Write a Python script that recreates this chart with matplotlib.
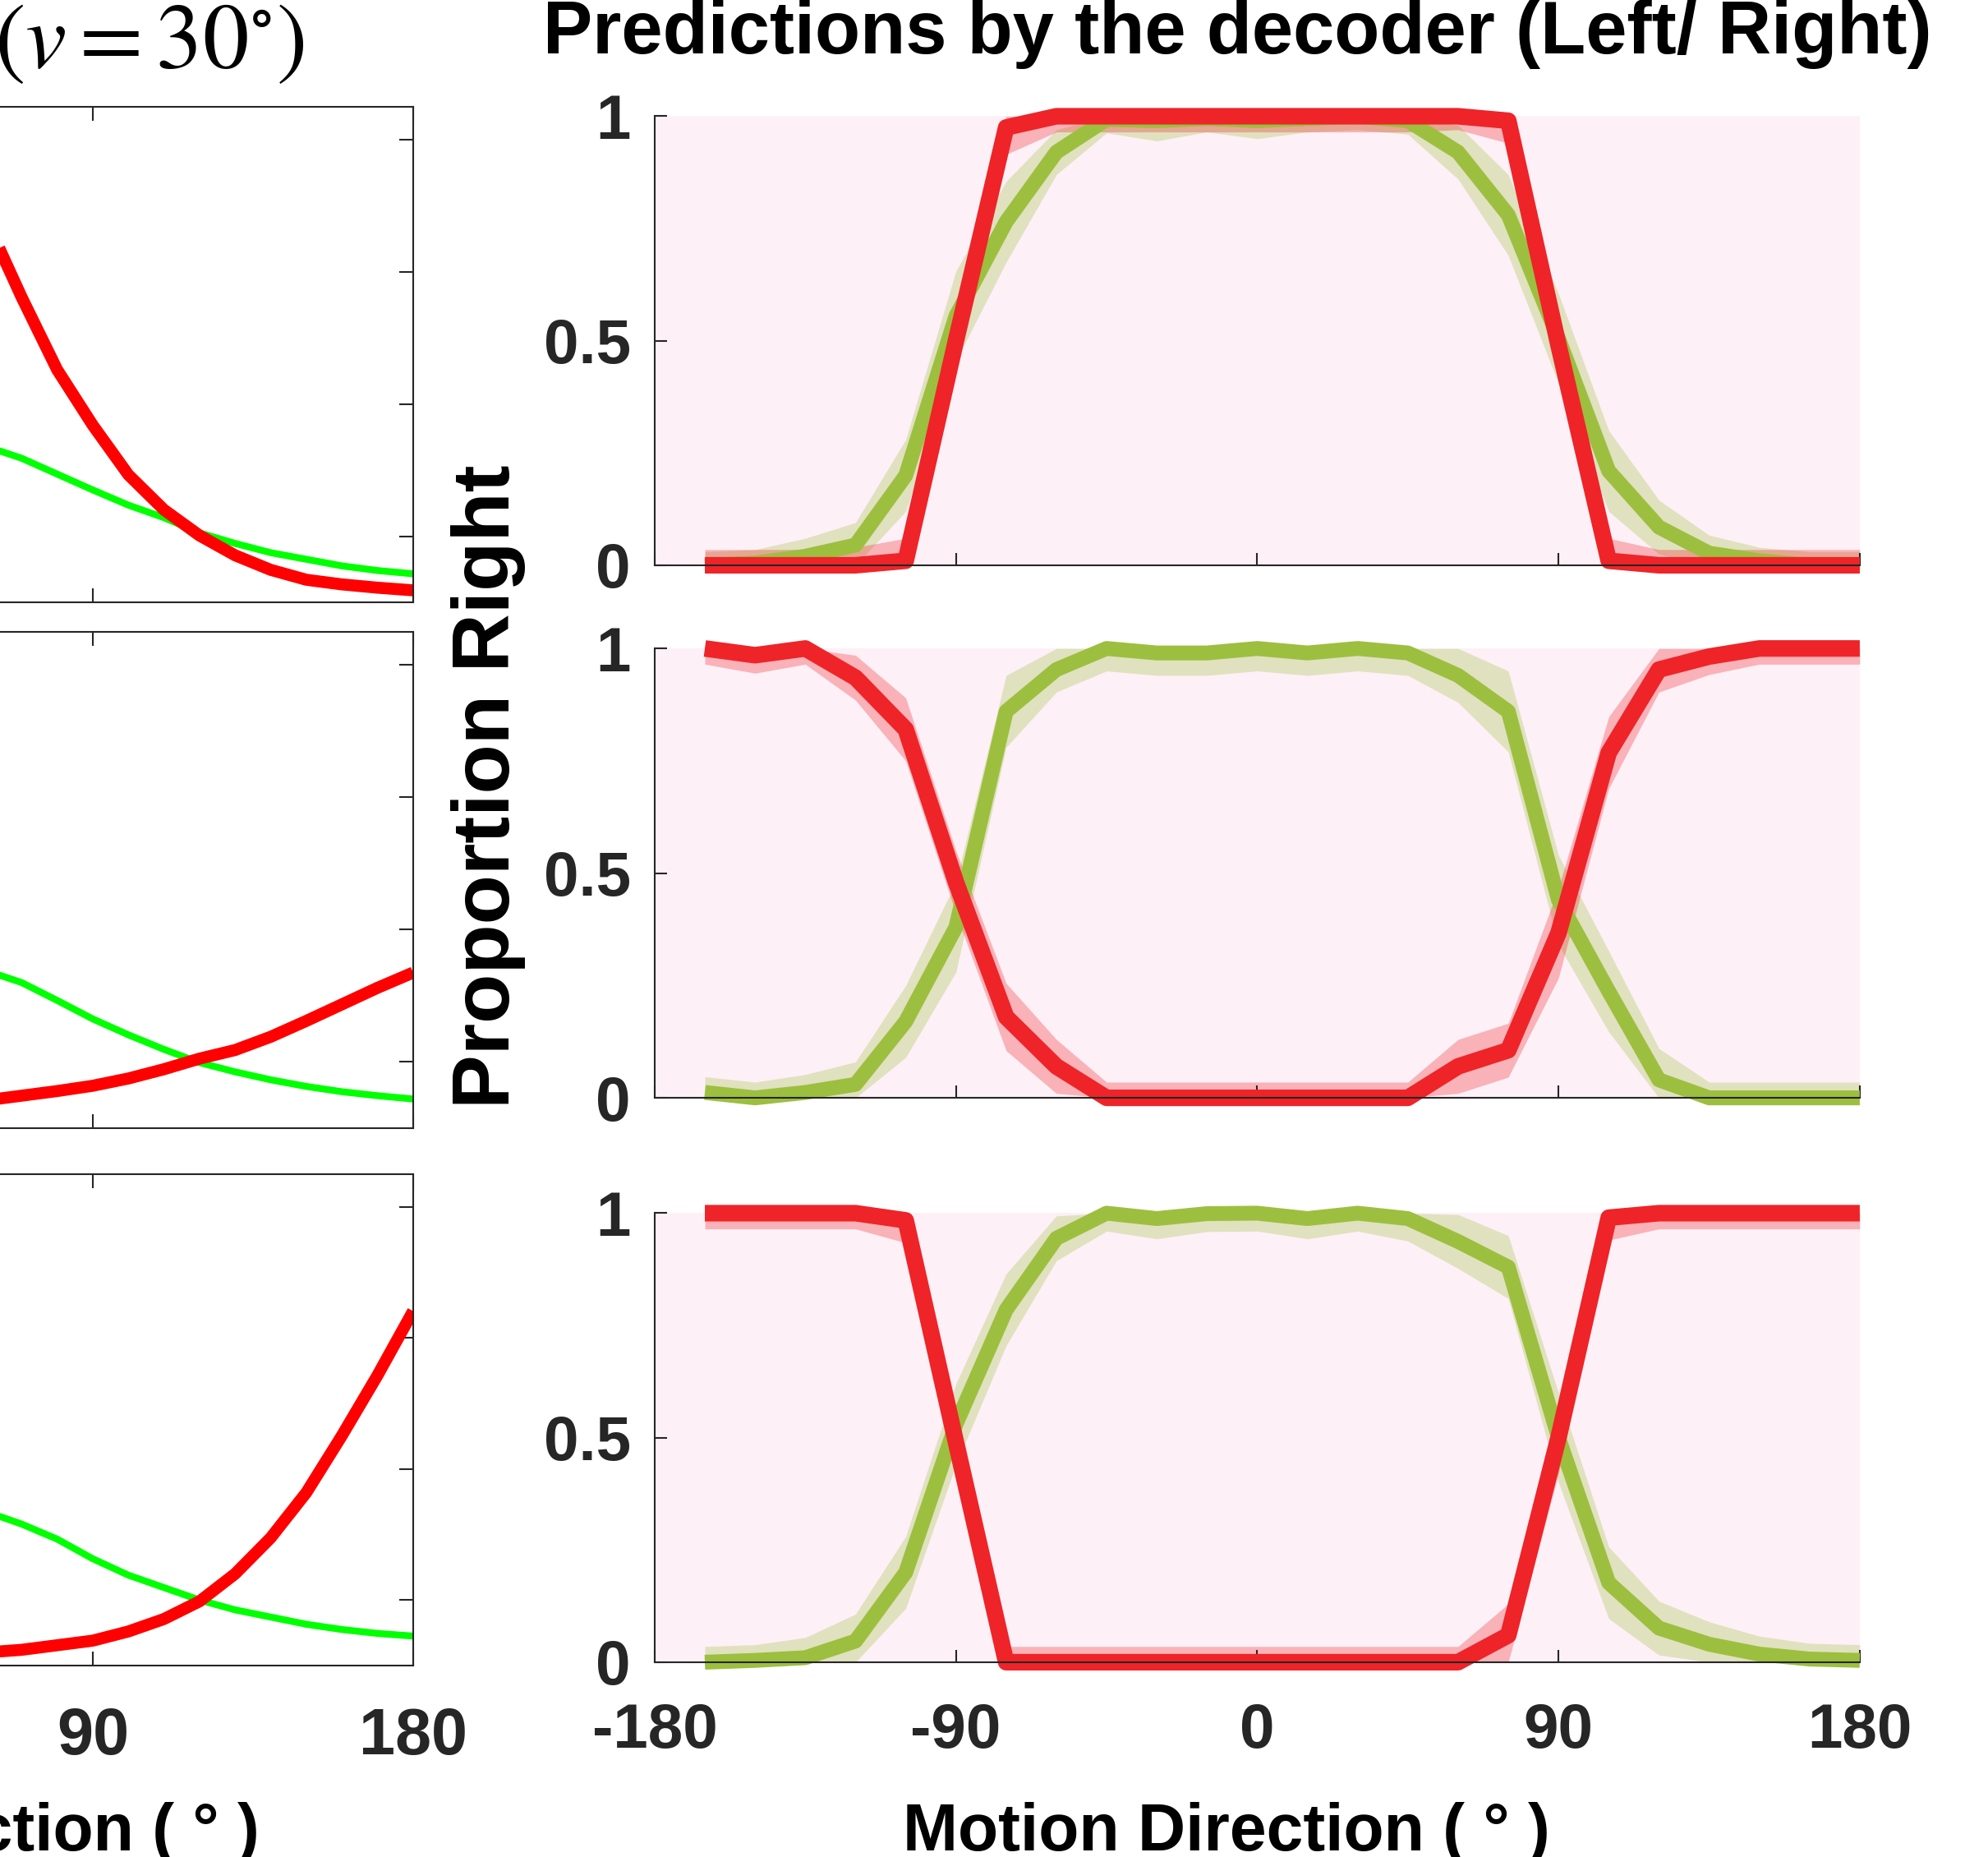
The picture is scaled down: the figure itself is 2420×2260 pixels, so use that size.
import numpy as np
import matplotlib
matplotlib.use('Agg')
import matplotlib.pyplot as plt

plt.rcParams['font.family'] = ['Liberation Sans', 'DejaVu Sans']
plt.rcParams['mathtext.fontset'] = 'stix'

# ---- left column: tuning curves (only the right end is inside the figure)
tune_dir = [60, 70, 80, 90, 100, 110, 120, 130, 140, 150, 160, 170, 180]
green_tune_top = [0.336, 0.318, 0.294, 0.270, 0.247, 0.228, 0.205, 0.189, 0.175, 0.165, 0.155, 0.148, 0.143]
red_tune_top = [0.680, 0.562, 0.452, 0.368, 0.293, 0.240, 0.201, 0.171, 0.149, 0.134, 0.127, 0.122, 0.118]
green_tune_mid = [0.338, 0.320, 0.293, 0.265, 0.241, 0.219, 0.199, 0.185, 0.173, 0.163, 0.155, 0.149, 0.144]
red_tune_mid = [0.142, 0.149, 0.156, 0.164, 0.175, 0.189, 0.205, 0.218, 0.238, 0.262, 0.287, 0.312, 0.335]
green_tune_bot = [0.335, 0.316, 0.293, 0.263, 0.238, 0.219, 0.200, 0.185, 0.174, 0.163, 0.155, 0.149, 0.145]
red_tune_bot = [0.120, 0.124, 0.131, 0.138, 0.152, 0.171, 0.198, 0.240, 0.295, 0.364, 0.451, 0.543, 0.641]

# ---- right column: decoder predictions (proportion "right") with error
motion_dir = [-165, -150, -135, -120, -105, -90, -75, -60, -45, -30, -15, 0,
              15, 30, 45, 60, 75, 90, 105, 120, 135, 150, 165, 180]

red_top = [0, 0, 0, 0, 0.01, 0.50, 0.975, 1, 1, 1, 1, 1,
           1, 1, 1, 1, 0.99, 0.49, 0.01, 0, 0, 0, 0, 0]
red_top_err = [0.035, 0.035, 0.035, 0.04, 0.05, 0.06, 0.06, 0.035, 0.035, 0.035, 0.035, 0.035,
               0.035, 0.035, 0.035, 0.03, 0.05, 0.06, 0.05, 0.035, 0.035, 0.035, 0.035, 0.035]
green_top = [0.0, 0.005, 0.02, 0.045, 0.20, 0.555, 0.765, 0.92, 0.993, 0.99, 0.995, 0.99,
             0.995, 1.0, 0.99, 0.92, 0.78, 0.505, 0.21, 0.085, 0.027, 0.01, 0.0, 0.0]
green_top_err = [0.03, 0.03, 0.04, 0.05, 0.08, 0.10, 0.09, 0.05, 0.03, 0.045, 0.03, 0.04,
                 0.03, 0.03, 0.03, 0.06, 0.09, 0.10, 0.09, 0.06, 0.04, 0.03, 0.03, 0.03]

red_mid = [1.0, 0.985, 1.0, 0.935, 0.82, 0.48, 0.18, 0.07, 0, 0, 0, 0,
           0, 0, 0, 0.07, 0.106, 0.367, 0.768, 0.953, 0.982, 1.0, 1.0, 1.0]
red_mid_err = [0.035, 0.04, 0.035, 0.05, 0.07, 0.07, 0.075, 0.06, 0.035, 0.035, 0.035, 0.035,
               0.035, 0.035, 0.035, 0.06, 0.06, 0.10, 0.08, 0.05, 0.04, 0.035, 0.035, 0.035]
green_mid = [0.012, 0.0, 0.012, 0.03, 0.17, 0.38, 0.86, 0.953, 1.0, 0.99, 0.99, 1.0,
             0.99, 1.0, 0.99, 0.94, 0.86, 0.44, 0.237, 0.04, 0.0, 0.0, 0.0, 0.0]
green_mid_err = [0.035, 0.035, 0.04, 0.05, 0.08, 0.10, 0.08, 0.05, 0.05, 0.05, 0.05, 0.05,
                 0.05, 0.05, 0.05, 0.06, 0.09, 0.10, 0.09, 0.07, 0.035, 0.035, 0.035, 0.035]

red_bot = [1, 1, 1, 1, 0.984, 0.49, 0, 0, 0, 0, 0, 0,
           0, 0, 0, 0, 0.06, 0.5, 0.99, 1, 1, 1, 1, 1]
red_bot_err = [0.035, 0.035, 0.035, 0.035, 0.05, 0.07, 0.035, 0.035, 0.035, 0.035, 0.035, 0.035,
               0.035, 0.035, 0.035, 0.035, 0.07, 0.08, 0.05, 0.035, 0.035, 0.035, 0.035, 0.035]
green_bot = [0.0, 0.004, 0.01, 0.047, 0.2, 0.53, 0.785, 0.944, 1.0, 0.988, 0.999, 1.0,
             0.988, 1.0, 0.988, 0.937, 0.88, 0.5, 0.177, 0.076, 0.04, 0.018, 0.007, 0.004]
green_bot_err = [0.035, 0.035, 0.045, 0.06, 0.08, 0.09, 0.08, 0.05, 0.04, 0.045, 0.04, 0.04,
                 0.045, 0.04, 0.05, 0.06, 0.07, 0.10, 0.08, 0.06, 0.05, 0.04, 0.035, 0.035]

x_ticks = [-180, -90, 0, 90, 180]
x_ticklabels = ['-180', '-90', '0', '90', '180']
y_ticks = [0, 0.5, 1]
y_ticklabels = ['0', '0.5', '1']

axis_col = '#262626'
red_line = '#EE2428'
green_line = '#9DBF3F'
pink_bg = '#FEF0F7'

fig = plt.figure(figsize=(24.2, 22.6), dpi=100)

# left column axes stick out past the left edge of the figure
left_rects = [[-0.4368, 0.6757, 0.6446, 0.2668],
              [-0.4368, 0.3925, 0.6446, 0.2673],
              [-0.4368, 0.1031, 0.6446, 0.2646]]
left_data = [(green_tune_top, red_tune_top),
             (green_tune_mid, red_tune_mid),
             (green_tune_bot, red_tune_bot)]

for i, (rect, (g, r)) in enumerate(zip(left_rects, left_data)):
    ax = fig.add_axes(rect)
    ax.plot(tune_dir, g, color='#00FF00', lw=6, solid_capstyle='butt')
    ax.plot(tune_dir, r, color='#FF0000', lw=10.5, solid_capstyle='butt')
    ax.set_xlim(-180, 180)
    ax.set_ylim(0.1, 0.85)
    ax.set_xticks(x_ticks)
    ax.set_yticks([0.2, 0.4, 0.6, 0.8])
    # the y labels and the negative x labels lie outside the figure anyway
    ax.set_yticklabels([])
    ax.tick_params(direction='in', length=12, width=1.5, top=True, right=True,
                   colors=axis_col, labelsize=57, pad=36)
    if i < 2:
        ax.set_xticklabels([])
    else:
        ax.set_xticklabels(['', '', '', '90', '180'], fontweight='bold')
    for s in ax.spines.values():
        s.set_linewidth(1.5)
        s.set_color(axis_col)

# right column: decoder predictions
right_rects = [[0.3293, 0.6956, 0.6062, 0.2418],
               [0.3293, 0.4088, 0.6062, 0.2420],
               [0.3293, 0.1049, 0.6062, 0.2418]]
right_data = [(green_top, green_top_err, red_top, red_top_err),
              (green_mid, green_mid_err, red_mid, red_mid_err),
              (green_bot, green_bot_err, red_bot, red_bot_err)]

for i, (rect, (g, ge, r, re)) in enumerate(zip(right_rects, right_data)):
    ax = fig.add_axes(rect)
    ax.set_facecolor(pink_bg)
    g = np.array(g)
    ge = np.array(ge)
    r = np.array(r)
    re = np.array(re)
    ax.fill_between(motion_dir, np.clip(g - ge, 0, 1), np.clip(g + ge, 0, 1),
                    color=green_line, alpha=0.3, lw=0)
    ax.plot(motion_dir, g, color=green_line, lw=13, solid_capstyle='butt',
            solid_joinstyle='round', clip_on=False)
    ax.fill_between(motion_dir, np.clip(r - re, 0, 1), np.clip(r + re, 0, 1),
                    color=red_line, alpha=0.3, lw=0)
    ax.plot(motion_dir, r, color=red_line, lw=14.5, solid_capstyle='butt',
            solid_joinstyle='round', clip_on=False)
    ax.set_xlim(-180, 180)
    ax.set_ylim(0, 1)
    ax.set_xticks(x_ticks)
    ax.set_yticks(y_ticks)
    ax.set_yticklabels(y_ticklabels, fontweight='bold')
    ax.tick_params(direction='in', length=11, width=1.5, colors=axis_col,
                   labelsize=55)
    ax.tick_params(axis='x', pad=35)
    ax.tick_params(axis='y', pad=21)
    if i < 2:
        ax.set_xticklabels([])
    else:
        ax.set_xticklabels(x_ticklabels, fontweight='bold')
    ax.spines['top'].set_visible(False)
    ax.spines['right'].set_visible(False)
    for s in ['left', 'bottom']:
        ax.spines[s].set_linewidth(1.5)
        ax.spines[s].set_color(axis_col)

# texts
fig.text(0.1533, 0.9765, r'$(v = 30^{\circ})$', fontsize=81, ha='right',
         va='center')
fig.text(0.6224, 0.9712, 'Predictions by the decoder (Left/ Right)',
         fontsize=65, ha='center', va='baseline', fontweight='bold')
fig.text(0.2455, 0.5765, 'Proportion Right', fontsize=71, rotation=90,
         ha='center', va='center', fontweight='bold')
fig.text(0.6167, 0.0035, 'Motion Direction ( \u00b0 )', fontsize=58,
         ha='center', va='baseline', fontweight='bold')
fig.text(0.1306, 0.0035, 'Motion Direction ( \u00b0 )', fontsize=58,
         ha='right', va='baseline', fontweight='bold')

fig.savefig('out.png', dpi=100)
